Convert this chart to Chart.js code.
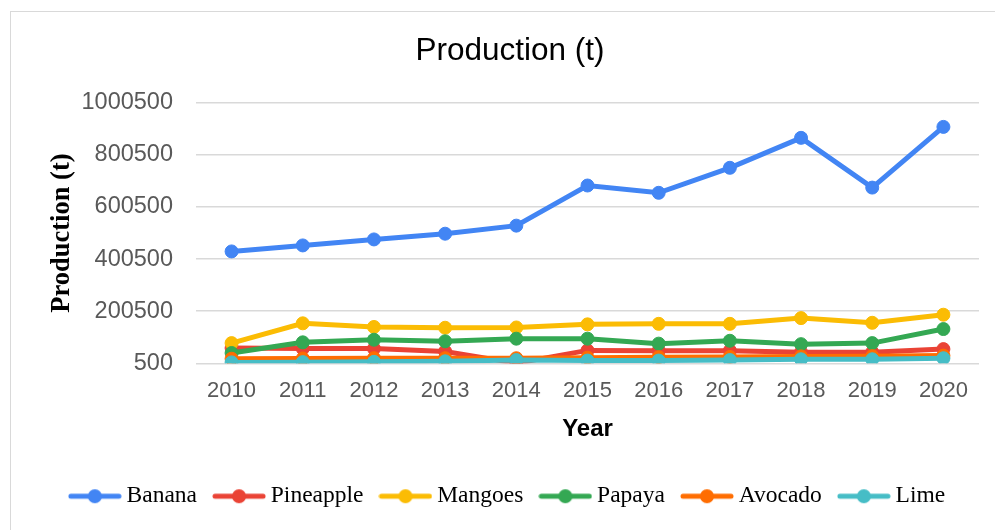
<!DOCTYPE html>
<html>
<head>
<meta charset="utf-8">
<script src="https://cdn.jsdelivr.net/npm/chart.js@4.4.1/dist/chart.umd.min.js"></script>
<style>
  html, body { margin: 0; padding: 0; background: #fff; }
  body { width: 995px; height: 530px; overflow: hidden; position: relative; }
  #frame { position: absolute; left: 10px; top: 11px; width: 1100px; height: 600px; border: 1px solid #d9d9d9; box-sizing: border-box; }
  #wrap { position: absolute; left: 0; top: 0; width: 1020px; height: 530px; }
</style>
</head>
<body>
<div id="frame"></div>
<div id="wrap"><canvas id="chart"></canvas></div>
<script>
// chart data
const years = ['2010', '2011', '2012', '2013', '2014', '2015', '2016', '2017', '2018', '2019', '2020'];
const banana    = [430000, 453000, 476000, 498000, 529000, 683000, 655000, 751000, 866000, 675000, 908000];
const pineapple = [59000, 57000, 57000, 46000, 1000, 50000, 49000, 49000, 43000, 43000, 55000];
const mangoes   = [78000, 154000, 140000, 137000, 138000, 150000, 152000, 152000, 174000, 156000, 187000];
const papaya    = [40000, 81000, 91000, 85000, 95000, 95000, 76000, 87000, 74000, 78000, 132000];
const avocado   = [18000, 19000, 20000, 20000, 20000, 22000, 24000, 25000, 27000, 28000, 30000];
const lime      = [4000, 5000, 6000, 8000, 13000, 11000, 11000, 13000, 16000, 16000, 20000];

const names  = ['Banana', 'Pineapple', 'Mangoes', 'Papaya', 'Avocado', 'Lime'];
const series = [banana, pineapple, mangoes, papaya, avocado, lime];
const colors = ['#4285F4', '#EA4335', '#FBBC04', '#34A853', '#FF6D01', '#46BDC6'];

// legend marker: short thick line with a dot in the middle
function legendMarker(color) {
  const c = document.createElement('canvas');
  c.width = 54; c.height = 16;
  const g = c.getContext('2d');
  g.strokeStyle = color; g.lineWidth = 5; g.lineCap = 'round';
  g.beginPath(); g.moveTo(3, 8); g.lineTo(51, 8); g.stroke();
  g.fillStyle = color;
  g.beginPath(); g.arc(27, 8, 7, 0, Math.PI * 2); g.fill();
  return c;
}

const datasets = names.map((n, i) => ({
  label: n,
  data: series[i],
  borderColor: colors[i],
  backgroundColor: colors[i],
  pointBackgroundColor: colors[i],
  pointBorderColor: colors[i],
  borderWidth: 5,
  pointRadius: 6.5,
  pointBorderWidth: 1,
  pointStyle: 'circle',
  legendImg: legendMarker(colors[i]),
  tension: 0,
  order: names.length - i   // later series drawn on top
}));

new Chart(document.getElementById('chart'), {
  type: 'line',
  data: { labels: years, datasets: datasets },
  options: {
    responsive: true,
    maintainAspectRatio: false,
    animation: false,
    layout: { padding: { left: 0, right: 0, top: 0, bottom: 12 } },
    plugins: {
      title: {
        display: true,
        text: 'Production (t)',
        color: '#000',
        font: { family: 'Liberation Sans', size: 31.5, weight: 'normal' },
        padding: { top: 32, bottom: 33 }
      },
      legend: {
        position: 'bottom',
        labels: {
          usePointStyle: true,
          pointStyleWidth: 40,
          color: '#000',
          font: { family: 'Liberation Serif', size: 23.5 },
          padding: 22,
          sort: (a, b) => a.datasetIndex - b.datasetIndex,
          generateLabels: (chart) => chart.data.datasets.map((ds, i) => ({
            text: ds.label,
            fillStyle: ds.borderColor,
            strokeStyle: ds.borderColor,
            fontColor: '#000',
            pointStyle: ds.legendImg,
            lineWidth: 0,
            hidden: false,
            datasetIndex: i
          }))
        }
      },
      tooltip: { enabled: false }
    },
    scales: {
      x: {
        offset: true,
        grid: { display: false },
        border: { display: false },
        ticks: { color: '#595959', font: { family: 'Liberation Sans', size: 22 }, padding: 6, maxRotation: 0 },
        title: {
          display: true,
          text: 'Year',
          color: '#000',
          font: { family: 'Liberation Sans', size: 24, weight: 'bold' },
          padding: { top: 5, bottom: 19 }
        }
      },
      y: {
        min: 500,
        max: 1000500,
        grid: { color: '#d9d9d9', lineWidth: 1.5, drawTicks: false },
        border: { display: false },
        ticks: {
          stepSize: 200000,
          color: '#595959',
          font: { family: 'Liberation Sans', size: 23.5 },
          padding: 23,
          callback: (v) => String(v)
        },
        title: {
          display: true,
          text: 'Production (t)',
          color: '#000',
          font: { family: 'Liberation Serif', size: 26.5, weight: 'bold' },
          padding: { top: 46, bottom: 0 }
        },
        afterFit: (s) => { s.width = 196; }
      },
      yRight: {
        position: 'right',
        grid: { display: false },
        border: { display: false },
        ticks: { display: false },
        afterFit: (s) => { s.width = 41; }
      }
    }
  }
});
</script>
</body>
</html>
